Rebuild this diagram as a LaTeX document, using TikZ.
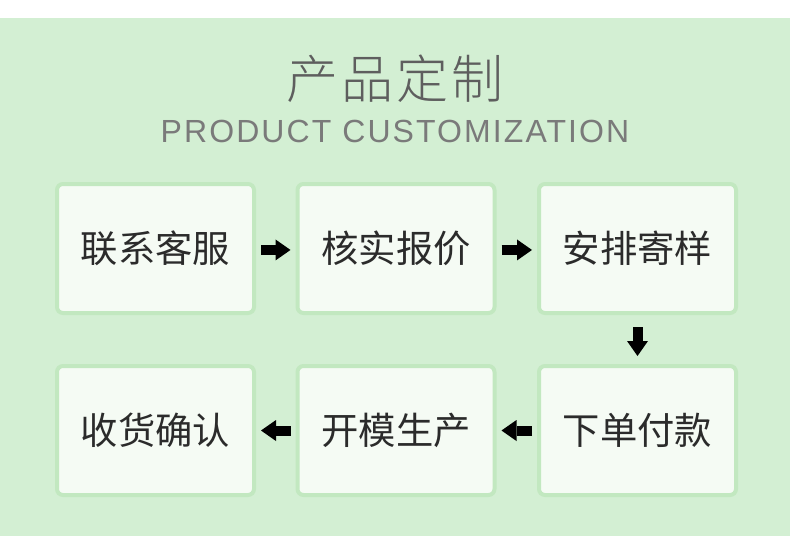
\documentclass[tikz,border=0pt]{standalone}
\usepackage{fontspec}
\newfontfamily\cjk{Noto Sans CJK SC}
\newfontfamily\cjklight{Noto Sans CJK SC Light}
\newfontfamily\latinsub[LetterSpace=6.5]{Liberation Sans}
\usetikzlibrary{arrows.meta}
\definecolor{bg}{HTML}{D3EFD3}
\definecolor{bord}{HTML}{C2E8C0}
\definecolor{inner}{HTML}{F5FBF4}
\definecolor{txt}{HTML}{2B2B2B}
\definecolor{ttl}{HTML}{5E5E5E}
\definecolor{subc}{HTML}{7A7A7A}
\begin{document}
\begin{tikzpicture}[x=0.75pt,y=-0.75pt,
 stepbox/.style={draw=bord, line width=3pt, fill=inner, rounded corners=4.5pt,
   minimum width=147.75pt, minimum height=96.75pt, inner sep=0pt,
   font=\cjk\fontsize{28pt}{30pt}\selectfont, text=txt},
 blockarrow/.style={line width=7.5pt, -{Triangle[length=11.25pt,width=15.75pt,line width=0pt]}}
]
\useasboundingbox (0,0) rectangle (790,536);
\fill[white] (0,0) rectangle (790,536);
\fill[bg] (0,18) rectangle (790,536);
\node[font=\cjklight\fontsize{39pt}{42pt}\selectfont, text=ttl] (title) at (395,79)
  {产\hspace{2.5pt}品\hspace{2.5pt}定\hspace{2.5pt}制};
\node[font=\latinsub\fontsize{24pt}{28pt}\selectfont, text=subc] (subtitle) at (395,131.5)
  {PRODUCT CUSTOMIZATION};
\node[stepbox] (b1) at (155.5,248.5) {联系客服};
\node[stepbox] (b2) at (396,248.5) {核实报价};
\node[stepbox] (b3) at (637.5,248.5) {安排寄样};
\node[stepbox] (b4) at (637.5,430.5) {下单付款};
\node[stepbox] (b5) at (396,430.5) {开模生产};
\node[stepbox] (b6) at (155.5,430.5) {收货确认};
\draw[blockarrow, shorten <=3.75pt, shorten >=3.75pt] ([yshift=-1.1pt]b1.east) -- ([yshift=-1.1pt]b2.west);
\draw[blockarrow, shorten <=3.75pt, shorten >=3.75pt] ([yshift=-1.1pt]b2.east) -- ([yshift=-1.1pt]b3.west);
\draw[blockarrow, shorten <=9pt, shorten >=6pt] (b3.south) -- (b4.north);
\draw[blockarrow, shorten <=3.75pt, shorten >=3.75pt] (b4.west) -- (b5.east);
\draw[blockarrow, shorten <=3.75pt, shorten >=3.75pt] (b5.west) -- (b6.east);
\end{tikzpicture}
\end{document}
